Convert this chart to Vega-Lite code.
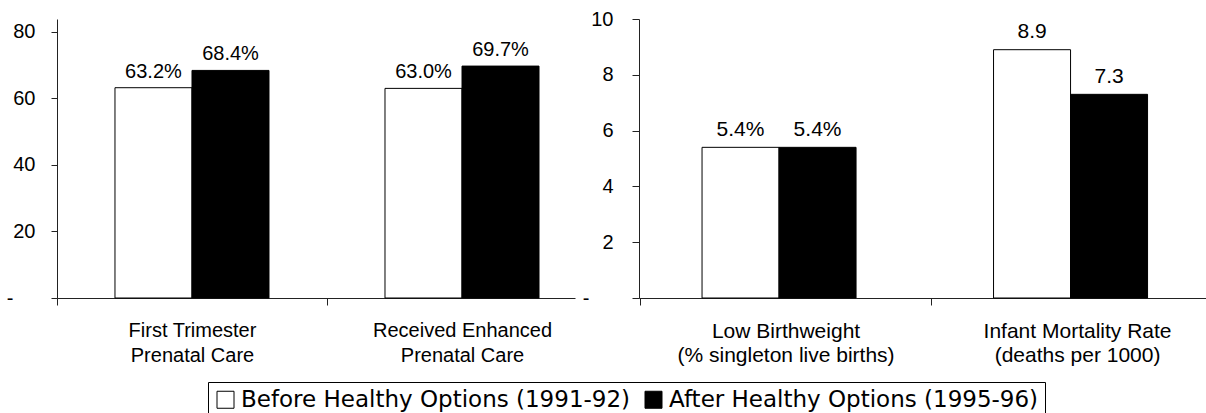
{
  "$schema": "https://vega.github.io/schema/vega-lite/v6.json",
  "background": "white",
  "padding": {"left": 6, "top": 9, "right": 0, "bottom": 0},
  "spacing": 7,
  "config": {
    "view": {"stroke": null},
    "font": "Liberation Sans",
    "axis": {"domainColor": "#222", "tickColor": "#222", "labelColor": "black", "grid": false, "labelFont": "Liberation Sans", "domainWidth": 1, "tickWidth": 1},
    "legend": {"orient": "none", "legendX": 151, "legendY": 363}
  },
  "datasets": {
    "left": [
      {"category": "First Trimester|Prenatal Care", "period": "Before Healthy Options (1991-92)", "value": 63.2, "label": "63.2%"},
      {"category": "First Trimester|Prenatal Care", "period": "After Healthy Options (1995-96)", "value": 68.4, "label": "68.4%"},
      {"category": "Received Enhanced|Prenatal Care", "period": "Before Healthy Options (1991-92)", "value": 63.0, "label": "63.0%"},
      {"category": "Received Enhanced|Prenatal Care", "period": "After Healthy Options (1995-96)", "value": 69.7, "label": "69.7%"}
    ],
    "right": [
      {"category": "Low Birthweight|(% singleton live births)", "period": "Before Healthy Options (1991-92)", "value": 5.4, "label": "5.4%"},
      {"category": "Low Birthweight|(% singleton live births)", "period": "After Healthy Options (1995-96)", "value": 5.4, "label": "5.4%"},
      {"category": "Infant Mortality Rate|(deaths per 1000)", "period": "Before Healthy Options (1991-92)", "value": 8.9, "label": "8.9"},
      {"category": "Infant Mortality Rate|(deaths per 1000)", "period": "After Healthy Options (1995-96)", "value": 7.3, "label": "7.3"}
    ]
  },
  "hconcat": [
    {
      "width": 518,
      "height": 279,
      "data": {"name": "left"},
      "encoding": {
        "x": {
          "field": "category", "type": "nominal", "sort": null, "title": null,
          "scale": {"paddingInner": 0.4296, "paddingOuter": 0.174, "align": 0.617},
          "axis": {"labelAngle": 0, "labelExpr": "split(datum.value, '|')", "labelFontSize": 20, "labelLineHeight": 25, "labelPadding": 15, "labelBaseline": "top", "tickSize": 7, "tickOffset": -135, "labelOffset": 135, "labelLimit": 0}
        },
        "y": {
          "field": "value", "type": "quantitative", "title": null,
          "scale": {"domain": [0, 83.85], "nice": false},
          "axis": {"values": [0, 20, 40, 60, 80], "labelExpr": "datum.value === 0 ? '-' : datum.label", "labelFontSize": 20, "tickSize": 6, "labelPadding": {"condition": {"test": "datum.value === 0", "value": 38}, "value": 16}}
        },
        "xOffset": {"field": "period", "type": "nominal", "sort": ["Before Healthy Options (1991-92)", "After Healthy Options (1995-96)"]}
      },
      "layer": [
        {
          "mark": {"type": "bar", "stroke": "black", "strokeWidth": 1},
          "encoding": {
            "color": {
              "field": "period", "type": "nominal", "title": null,
              "scale": {"domain": ["Before Healthy Options (1991-92)", "After Healthy Options (1995-96)"], "range": ["white", "black"]},
              "legend": {"direction": "horizontal", "columns": 2, "strokeColor": "black", "fillColor": "white", "padding": 6, "symbolType": "square", "symbolSize": 289, "symbolStrokeColor": "black", "symbolStrokeWidth": 1, "symbolOpacity": 1, "labelFont": "DejaVu Sans", "labelFontSize": 23, "labelColor": "black", "labelOffset": 4, "columnPadding": 11, "labelLimit": 0}
            }
          }
        },
        {
          "mark": {"type": "text", "fill": "black", "fontSize": 20, "baseline": "alphabetic", "dy": -10},
          "encoding": {"text": {"field": "label"}}
        }
      ]
    },
    {
      "width": 567,
      "height": 279,
      "data": {"name": "right"},
      "encoding": {
        "x": {
          "field": "category", "type": "nominal", "sort": null, "title": null,
          "scale": {"paddingInner": 0.4271, "paddingOuter": 0.1861, "align": 0.581},
          "axis": {"labelAngle": 0, "labelExpr": "split(datum.value, '|')", "labelFontSize": 21, "labelLineHeight": 24, "labelPadding": 15, "labelBaseline": "top", "tickSize": 7, "tickOffset": -145.75, "labelOffset": 145.75, "labelLimit": 0}
        },
        "y": {
          "field": "value", "type": "quantitative", "title": null,
          "scale": {"domain": [0, 10], "nice": false},
          "axis": {"values": [0, 2, 4, 6, 8, 10], "labelExpr": "datum.value === 0 ? '-' : datum.label", "labelFontSize": 20, "tickSize": 7, "labelPadding": {"condition": {"test": "datum.value === 0", "value": 43}, "value": 19}}
        },
        "xOffset": {"field": "period", "type": "nominal", "sort": ["Before Healthy Options (1991-92)", "After Healthy Options (1995-96)"]}
      },
      "layer": [
        {
          "mark": {"type": "bar", "stroke": "black", "strokeWidth": 1},
          "encoding": {
            "color": {
              "field": "period", "type": "nominal", "title": null,
              "scale": {"domain": ["Before Healthy Options (1991-92)", "After Healthy Options (1995-96)"], "range": ["white", "black"]}
            }
          }
        },
        {
          "mark": {"type": "text", "fill": "black", "fontSize": 21, "baseline": "alphabetic", "dy": -11.5},
          "encoding": {"text": {"field": "label"}}
        }
      ]
    }
  ]
}
